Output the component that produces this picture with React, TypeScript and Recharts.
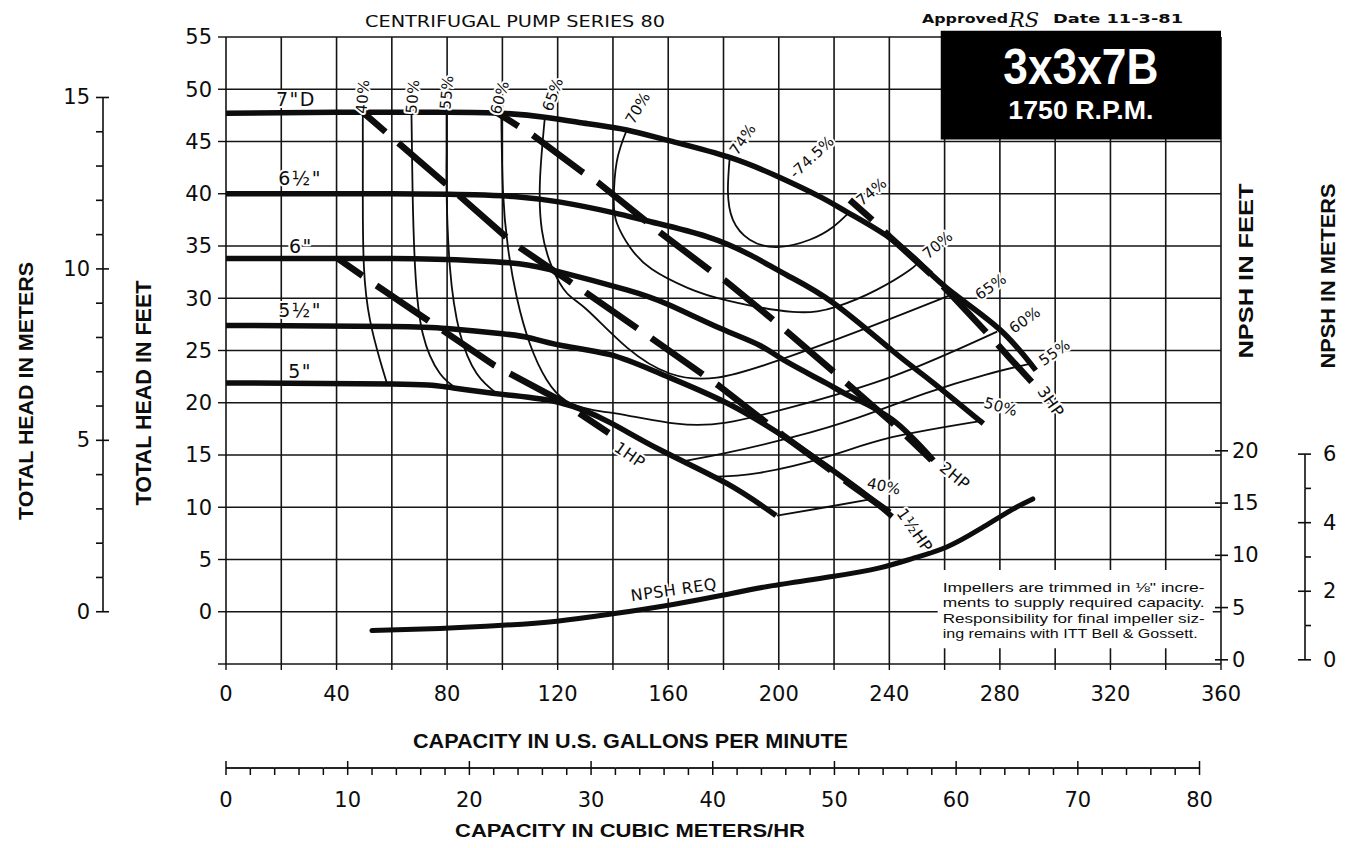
import React from 'react';
import {
  ComposedChart,
  Line,
  XAxis,
  YAxis,
  CartesianGrid,
  Scatter,
  ReferenceArea,
  Customized,
} from 'recharts';

type Pt = [number, number];

// ---------- axes ----------
const gpmTicks = [0, 20, 40, 60, 80, 100, 120, 140, 160, 180, 200, 220, 240, 260, 280, 300, 320, 340, 360];
const headTicks = [-5, 0, 5, 10, 15, 20, 25, 30, 35, 40, 45, 50, 55];
const headMeterTicks = [0, 1, 2, 3, 4, 5, 6, 7, 8, 9, 10, 11, 12, 13, 14, 15];
const npshFeetTicks = [0, 5, 10, 15, 20];
const npshMeterTicks = [0, 1, 2, 3, 4, 5, 6];
const m3Ticks = [0, 2, 4, 6, 8, 10, 12, 14, 16, 18, 20, 22, 24, 26, 28, 30, 32, 34, 36, 38, 40, 42, 44, 46, 48, 50, 52, 54, 56, 58, 60, 62, 64, 66, 68, 70, 72, 74, 76, 78, 80];

// ---------- impeller head curves (gpm, ft) ----------
const head7: Pt[] = [[0, 47.7], [40, 47.8], [80, 47.8], [100, 47.7], [116, 47.3], [131, 46.7], [145, 46.1], [160, 45.1], [182, 43.5], [200, 41.6], [215, 39.7], [225, 38.2], [240, 35.8], [252, 33.1], [263, 30.5], [280, 27.0], [293, 23.1]];
const head65: Pt[] = [[0, 40.0], [60, 40.0], [90, 39.9], [106, 39.7], [121, 39.2], [140, 38.2], [154, 37.3], [174, 35.9], [190, 34.1], [203, 32.2], [220, 29.5], [241, 25.0], [255, 22.1], [274, 18.0]];
const head6: Pt[] = [[0, 33.8], [60, 33.8], [90, 33.6], [106, 33.3], [121, 32.5], [145, 30.8], [160, 29.4], [179, 27.1], [193, 25.5], [203, 23.9], [217, 21.9], [226, 20.6], [241, 18.4], [256, 14.5]];
const head55: Pt[] = [[0, 27.4], [60, 27.3], [80, 27.1], [100, 26.6], [110, 26.2], [121, 25.5], [139, 24.6], [157, 22.8], [181, 20.0], [205, 16.2], [229, 11.7], [241, 9.1]];
const head5: Pt[] = [[0, 21.9], [60, 21.8], [80, 21.5], [100, 20.8], [121, 20.0], [139, 18.1], [157, 15.5], [181, 12.3], [199, 9.2]];

// ---------- horsepower lines ----------
const hp1: Pt[] = [[40.5, 33.8], [54, 31.3], [73, 27.9], [97, 23.6], [121, 20.2], [138.5, 17.1]];
const hp15: Pt[] = [[49.5, 47.8], [81, 40.6], [103.8, 35.3], [128.8, 30.8], [153.3, 26.3], [177.9, 21.7], [201.4, 16.9], [226.8, 12.0], [240.1, 9.5]];
const hp2: Pt[] = [[96.6, 48.0], [111, 45.6], [128.8, 42.1], [134.5, 41.1], [157, 36.3], [176, 32.5], [181, 31.6], [198.6, 27.8], [221, 22.7], [242.7, 17.7], [255.3, 14.5]];
const hp3: Pt[] = [[225.7, 39.4], [234.7, 37.3], [240.1, 35.9], [257.1, 31.8], [261.8, 30.5], [278.8, 25.7], [283.5, 24.3], [291.5, 22.0]];

// ---------- efficiency contours ----------
const eff40: Pt[] = [[49.5, 47.7], [49.5, 43.0], [49.5, 39.4], [49.9, 33.0], [52.1, 27.9], [55.7, 24.1], [58.3, 21.8]];
const eff50: Pt[] = [[67.1, 47.7], [67.3, 44.0], [67.5, 40.3], [68.4, 33.0], [71.2, 26.6], [77.4, 22.8], [83.9, 21.3]];
const eff55: Pt[] = [[79.8, 47.7], [79.8, 44.0], [79.8, 40.3], [81.0, 33.0], [84.6, 26.7], [90.7, 22.8], [97.9, 20.9]];
const eff60: Pt[] = [[99.6, 47.8], [100.2, 40.3], [102, 34.9], [105.2, 30.1], [110, 25.6], [116, 22.2], [123, 20.2], [133, 19.3], [145, 18.8], [163, 18.0], [181, 18.1], [205, 19.6], [241, 22.5], [279, 26.8]];
const eff65: Pt[] = [[115.4, 47.4], [113.6, 41.3], [114.3, 36.5], [117.9, 33.0], [123.3, 30.5], [130.6, 28.9], [145, 25.3], [160.6, 22.8], [177.6, 22.4], [199.3, 24.0], [229.3, 26.9], [263, 30.4]];
const eff70: Pt[] = [[145, 46.1], [141.4, 43.1], [140.3, 39.4], [141.4, 37.2], [146.1, 34.9], [154, 32.8], [167, 31.0], [181.2, 29.8], [205, 28.7], [221, 29.2], [235.4, 30.8], [247.4, 32.7], [250.5, 33.5]];
const eff74: Pt[] = [[182.3, 43.6], [181.6, 40.3], [183.4, 37.5], [189.5, 35.6], [199.3, 34.9], [211.2, 35.6], [219.5, 36.8], [225, 38.1]];
const eff55r: Pt[] = [[165.3, 14.4], [181, 15.2], [205, 16.7], [229, 18.6], [253, 20.9], [275, 22.7], [292, 23.8]];
const eff50r: Pt[] = [[175, 12.9], [193, 13.3], [217, 14.8], [241, 16.7], [274, 18.3]];
const eff40r: Pt[] = [[199.3, 9.2], [217, 10.0], [234, 10.8]];

// ---------- NPSH required (gpm, ft NPSH) ----------
const npshReq: Pt[] = [[52.8, 2.8], [77.4, 3.0], [100, 3.3], [119.7, 3.7], [140, 4.4], [161.7, 5.3], [180, 6.2], [197.8, 7.1], [220, 8.0], [236.5, 8.8], [248.5, 9.7], [260.8, 10.8], [272.7, 12.5], [284.6, 14.4], [291.9, 15.4]];

// ---------- curve labels (gpm, ft, text, angle) ----------
const impellerLabels = [
  { x: 25.3, y: 49.1, text: '7"D', angle: 0 },
  { x: 26.8, y: 41.5, text: '6½"', angle: 0 },
  { x: 27.1, y: 35.0, text: '6"', angle: 0 },
  { x: 26.8, y: 28.9, text: '5½"', angle: 0 },
  { x: 26.8, y: 23.0, text: '5"', angle: 0 },
];
const effLabels = [
  { x: 49.5, y: 49.3, text: '40%', angle: -85 },
  { x: 67.6, y: 49.3, text: '50%', angle: -85 },
  { x: 79.9, y: 49.7, text: '55%', angle: -85 },
  { x: 99.1, y: 49.2, text: '60%', angle: -75 },
  { x: 118.3, y: 49.5, text: '65%', angle: -70 },
  { x: 149, y: 48.2, text: '70%', angle: -60 },
  { x: 187, y: 45.2, text: '74%', angle: -55 },
  { x: 212, y: 43.5, text: '-74.5%', angle: -43 },
  { x: 233.6, y: 40.2, text: '74%', angle: -40 },
  { x: 257.5, y: 35.1, text: '70%', angle: -40 },
  { x: 276.7, y: 31.1, text: '65%', angle: -35 },
  { x: 289, y: 27.9, text: '60%', angle: -35 },
  { x: 299.8, y: 24.8, text: '55%', angle: -35 },
  { x: 280.3, y: 19.6, text: '50%', angle: 15 },
  { x: 238, y: 12.0, text: '40%', angle: 12 },
];
const powerLabels = [
  { x: 146.1, y: 15.0, text: '1HP', angle: 35 },
  { x: 249.2, y: 7.8, text: '1½HP', angle: 55 },
  { x: 263.7, y: 13.0, text: '2HP', angle: 40 },
  { x: 298.4, y: 20.1, text: '3HP', angle: 55 },
  { x: 162, y: 2.1, text: 'NPSH REQ', angle: -8 },
];

const noteLines = [
  'Impellers are trimmed in ⅛" incre-',
  'ments to supply required capacity.',
  'Responsibility for final impeller siz-',
  'ing remains with ITT Bell & Gossett.',
];

// ---------- layout ----------
const W = 1335;
const H = 832;
const MARGIN = { top: 29, right: 0, bottom: 0, left: 0 };
const PLOT_W = 995;
const PLOT_H = 627;
const FT_TO_M = 0.3048;
const GPM_TO_M3H = 0.227125;
const HEAD_DOMAIN: [number, number] = [-5, 55];
const NPSH_DOMAIN: [number, number] = [-0.4, 59.6];
const INK = '#0d0d0d';
const LETTER = "'DejaVu Sans', sans-serif";
const BOLD = "'Liberation Sans', Arial, sans-serif";

const M_STEP = PLOT_H / ((HEAD_DOMAIN[1] - HEAD_DOMAIN[0]) * FT_TO_M);
const M3_STEP = (PLOT_W / (360 * GPM_TO_M3H)) * 2;

const xy = (pts: Pt[]) => pts.map(([x, y]) => ({ x, y }));
// NPSH curve drawn against the cubic-metre capacity axis (same span as 0–360 gpm)
const npshReqM3 = npshReq.map(([g, n]) => ({ x: g * GPM_TO_M3H, y: n }));

function HeadMeterTick(props: any) {
  const { x, y, payload } = props;
  const v = payload.value as number;
  const major = v % 5 === 0;
  return (
    <g>
      {v < 15 && <line x1={x} x2={x} y1={y} y2={y - M_STEP} stroke={INK} strokeWidth={1.6} />}
      <line x1={x - 7} x2={major ? x + 6 : x} y1={y} y2={y} stroke={INK} strokeWidth={1.6} />
      {major && (
        <text x={x - 13} y={y} textAnchor="end" dominantBaseline="central" fontSize={21} fontFamily={LETTER} fill={INK}>
          {v}
        </text>
      )}
    </g>
  );
}

function NpshFeetTick(props: any) {
  const { x, y, payload } = props;
  const v = payload.value as number;
  return (
    <g>
      <line x1={x - 6} x2={x + 7} y1={y} y2={y} stroke={INK} strokeWidth={1.6} />
      <text x={x + 11} y={y} textAnchor="start" dominantBaseline="central" fontSize={21} fontFamily={LETTER} fill={INK}>
        {v}
      </text>
    </g>
  );
}

function NpshMeterTick(props: any) {
  const { x, y, payload } = props;
  const v = payload.value as number;
  const major = v % 2 === 0;
  return (
    <g>
      {v < 6 && <line x1={x} x2={x} y1={y} y2={y - M_STEP} stroke={INK} strokeWidth={1.6} />}
      <line x1={major ? x - 7 : x} x2={x + 6} y1={y} y2={y} stroke={INK} strokeWidth={1.6} />
      {major && (
        <text x={x + 18} y={y} textAnchor="start" dominantBaseline="central" fontSize={21} fontFamily={LETTER} fill={INK}>
          {v}
        </text>
      )}
    </g>
  );
}

function M3Tick(props: any) {
  const { x, y, payload } = props;
  const v = payload.value as number;
  const major = v % 10 === 0;
  return (
    <g>
      {v < 80 && <line x1={x} x2={x + M3_STEP} y1={y} y2={y} stroke={INK} strokeWidth={1.8} />}
      <line x1={x} x2={x} y1={major ? y - 7 : y} y2={y + 7} stroke={INK} strokeWidth={1.5} />
      {major && (
        <text x={x} y={y + 32} textAnchor="middle" dominantBaseline="central" fontSize={21} fontFamily={LETTER} fill={INK}>
          {v}
        </text>
      )}
    </g>
  );
}

const KIND_STYLE: Record<string, { size: number; spacing: number }> = {
  impeller: { size: 19, spacing: 1.5 },
  eff: { size: 15, spacing: 0.2 },
  power: { size: 16, spacing: 0.5 },
};

const labelData = [
  ...impellerLabels.map((d) => ({ ...d, kind: 'impeller' })),
  ...effLabels.map((d) => ({ ...d, kind: 'eff' })),
  ...powerLabels.map((d) => ({ ...d, kind: 'power' })),
];

function LabelShape(props: any) {
  const { cx, cy, payload } = props;
  if (cx == null || cy == null) return null;
  const st = KIND_STYLE[payload.kind];
  return (
    <text
      x={cx}
      y={cy}
      transform={`rotate(${payload.angle} ${cx} ${cy})`}
      textAnchor="middle"
      dominantBaseline="central"
      fontSize={st.size}
      letterSpacing={st.spacing}
      fontFamily={LETTER}
      fill={INK}
      stroke="#fff"
      strokeWidth={4}
      strokeLinejoin="round"
      paintOrder="stroke"
    >
      {payload.text}
    </text>
  );
}

function renderModelBox(props: any) {
  const vb = props.viewBox || {};
  const cx = vb.x + vb.width / 2;
  return (
    <g>
      <text x={cx} y={vb.y + 53} textAnchor="middle" fontSize={50} fontWeight="bold" fontFamily={BOLD} fill="#fff" textLength={155} lengthAdjust="spacingAndGlyphs">
        3x3x7B
      </text>
      <text x={cx} y={vb.y + 88} textAnchor="middle" fontSize={25} fontWeight="bold" fontFamily={BOLD} fill="#fff" textLength={145} lengthAdjust="spacingAndGlyphs">
        1750 R.P.M.
      </text>
    </g>
  );
}

function renderNote(props: any) {
  const vb = props.viewBox || {};
  const x0 = vb.x + 5;
  return (
    <g>
      {noteLines.map((t, i) => (
        <text
          key={i}
          x={x0}
          y={vb.y + 22 + i * 15.3}
          fontSize={13.5}
          fontFamily={BOLD}
          fill={INK}
          textLength={i === 3 ? 255 : 262}
          lengthAdjust="spacingAndGlyphs"
        >
          {t}
        </text>
      ))}
    </g>
  );
}

function Decorations() {
  const vTitle = (text: string, cx: number, cy: number, len: number, size: number) => (
    <text
      x={cx}
      y={cy}
      transform={`rotate(-90 ${cx} ${cy})`}
      textAnchor="middle"
      dominantBaseline="central"
      fontSize={size}
      fontWeight="bold"
      fontFamily={BOLD}
      fill={INK}
      textLength={len}
      lengthAdjust="spacingAndGlyphs"
    >
      {text}
    </text>
  );
  return (
    <g>
      <text x={357} y={19} fontSize={15} fontFamily={LETTER} fill={INK} textLength={300} lengthAdjust="spacingAndGlyphs">
        CENTRIFUGAL PUMP SERIES 80
      </text>
      <text x={914} y={15} fontSize={13} fontWeight="bold" fontFamily={LETTER} fill={INK} textLength={86} lengthAdjust="spacingAndGlyphs">
        Approved
      </text>
      <text x={1001} y={19} fontSize={21} fontStyle="italic" fontFamily="'DejaVu Serif', serif" fill={INK}>
        RS
      </text>
      <text x={1045} y={15} fontSize={13} fontWeight="bold" fontFamily={LETTER} fill={INK} textLength={130} lengthAdjust="spacingAndGlyphs">
        Date 11-3-81
      </text>
      {vTitle('TOTAL HEAD IN METERS', 17, 383, 258, 21)}
      {vTitle('TOTAL HEAD IN FEET', 135, 385, 225, 22)}
      {vTitle('NPSH IN FEET', 1237, 263, 175, 21)}
      {vTitle('NPSH IN METERS', 1319, 268, 185, 21)}
      <text x={405} y={733} dominantBaseline="central" fontSize={20} fontWeight="bold" fontFamily={BOLD} fill={INK} textLength={435} lengthAdjust="spacingAndGlyphs">
        CAPACITY IN U.S. GALLONS PER MINUTE
      </text>
      <text x={447} y={822} dominantBaseline="central" fontSize={19} fontWeight="bold" fontFamily={BOLD} fill={INK} textLength={350} lengthAdjust="spacingAndGlyphs">
        CAPACITY IN CUBIC METERS/HR
      </text>
    </g>
  );
}

const headCurves = [head7, head65, head6, head55, head5];
const powerLines = [hp1, hp15, hp2, hp3];
const effCurves = [eff40, eff50, eff55, eff60, eff65, eff70, eff74, eff55r, eff50r, eff40r];

export default function App() {
  return (
    <div style={{ width: W, height: H, background: '#fff' }}>
      <ComposedChart width={W} height={H} margin={MARGIN}>
        <CartesianGrid stroke="#151515" strokeWidth={1.6} />
        <XAxis
          xAxisId={0}
          dataKey="x"
          type="number"
          domain={[0, 360]}
          ticks={gpmTicks}
          interval={0}
          allowDataOverflow
          height={104}
          tickSize={6}
          tickMargin={16}
          axisLine={false}
          tickLine={{ stroke: INK, strokeWidth: 1.4 }}
          tickFormatter={(v: number) => (v % 40 === 0 ? String(v) : '')}
          tick={{ fontSize: 21, fill: INK, fontFamily: LETTER }}
        />
        <XAxis
          xAxisId="m3"
          dataKey="x"
          type="number"
          domain={[0, 360 * GPM_TO_M3H]}
          ticks={m3Ticks}
          interval={0}
          allowDataOverflow
          height={72}
          tickSize={0}
          tickMargin={0}
          axisLine={false}
          tickLine={false}
          tick={M3Tick}
        />
        <YAxis
          yAxisId={0}
          type="number"
          domain={HEAD_DOMAIN}
          ticks={headTicks}
          interval={0}
          allowDataOverflow
          width={123}
          tickSize={8}
          tickMargin={6}
          axisLine={false}
          tickLine={{ stroke: INK, strokeWidth: 1.4 }}
          tickFormatter={(v: number) => (v === -5 ? '' : String(v))}
          tick={{ fontSize: 21, fill: INK, fontFamily: LETTER }}
        />
        <YAxis
          yAxisId="m"
          type="number"
          domain={[HEAD_DOMAIN[0] * FT_TO_M, HEAD_DOMAIN[1] * FT_TO_M]}
          ticks={headMeterTicks}
          interval={0}
          allowDataOverflow
          width={95}
          tickSize={0}
          tickMargin={0}
          axisLine={false}
          tickLine={false}
          tick={HeadMeterTick}
        />
        <YAxis
          yAxisId="npsh"
          orientation="right"
          type="number"
          domain={NPSH_DOMAIN}
          ticks={npshFeetTicks}
          interval={0}
          allowDataOverflow
          width={84}
          tickSize={0}
          tickMargin={0}
          axisLine={false}
          tickLine={false}
          tick={NpshFeetTick}
        />
        <YAxis
          yAxisId="npshm"
          orientation="right"
          type="number"
          domain={[NPSH_DOMAIN[0] * FT_TO_M, NPSH_DOMAIN[1] * FT_TO_M]}
          ticks={npshMeterTicks}
          interval={0}
          allowDataOverflow
          width={38}
          tickSize={0}
          tickMargin={0}
          axisLine={false}
          tickLine={false}
          tick={NpshMeterTick}
        />

        <ReferenceArea x1={258.6} x2={360} y1={45.2} y2={55.6} fill="#000" fillOpacity={1} stroke="none" ifOverflow="visible" label={renderModelBox} />
        <ReferenceArea x1={257.5} x2={357} y1={-3.5} y2={4.0} fill="#fff" fillOpacity={1} stroke="none" ifOverflow="visible" label={renderNote} />

        {effCurves.map((c, i) => (
          <Line
            key={`eff${i}`}
            data={xy(c)}
            dataKey="y"
            type="natural"
            stroke={INK}
            strokeWidth={1.8}
            dot={false}
            activeDot={false}
            isAnimationActive={false}
          />
        ))}
        {headCurves.map((c, i) => (
          <Line
            key={`head${i}`}
            data={xy(c)}
            dataKey="y"
            type="natural"
            stroke={INK}
            strokeWidth={5.5}
            strokeLinecap="butt"
            dot={false}
            activeDot={false}
            isAnimationActive={false}
          />
        ))}
        {powerLines.map((c, i) => (
          <Line
            key={`hp${i}`}
            data={xy(c)}
            dataKey="y"
            type="linear"
            stroke={INK}
            strokeWidth={6.5}
            strokeDasharray="63 17"
            strokeDashoffset={33}
            dot={false}
            activeDot={false}
            isAnimationActive={false}
          />
        ))}
        <Line
          xAxisId="m3"
          yAxisId="npsh"
          data={npshReqM3}
          dataKey="y"
          type="natural"
          stroke={INK}
          strokeWidth={5}
          strokeLinecap="round"
          dot={false}
          activeDot={false}
          isAnimationActive={false}
        />
        <Scatter data={labelData} dataKey="y" isAnimationActive={false} shape={(p: any) => <LabelShape {...p} />} />
        <Customized component={<Decorations />} />
      </ComposedChart>
    </div>
  );
}
